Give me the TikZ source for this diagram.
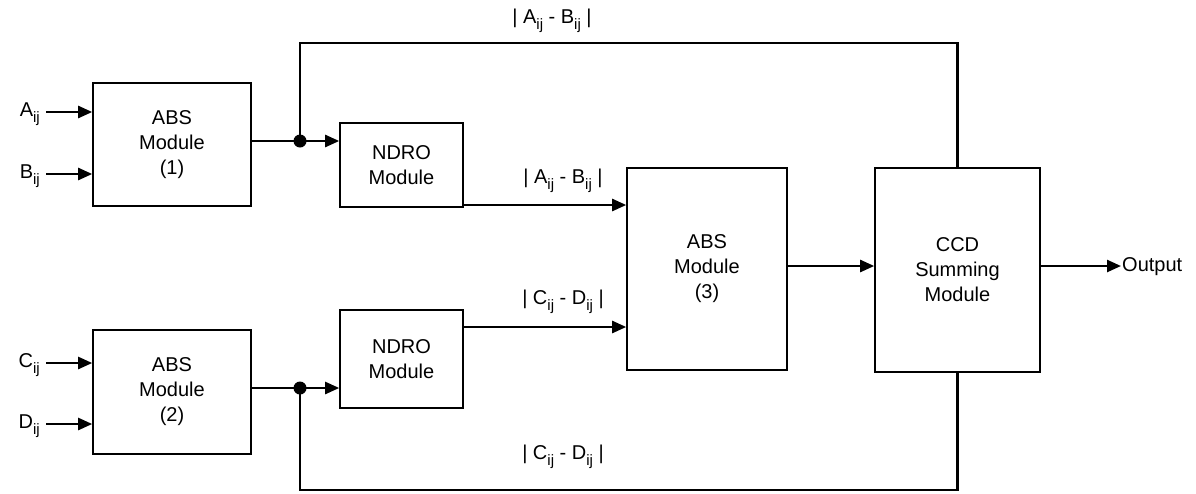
\documentclass[tikz,border=0pt]{standalone}
\usepackage{fontspec}
\setmainfont{Liberation Sans}
\usetikzlibrary{arrows.meta}
\newcommand\subij[1]{\raisebox{-0.6ex}{\fontsize{15}{15}\selectfont #1}}
\tikzset{
  modbox/.style={draw, line width=1.6pt, align=center, font=\fontsize{20}{25}\selectfont, inner sep=0pt},
  conn/.style={line width=2.4pt},
  arr/.style={conn, -{Triangle[length=14pt,width=12pt]}},
  lbl/.style={font=\fontsize{20}{24}\selectfont, inner sep=1pt},
  jdot/.style={circle, fill=black, minimum size=13pt, inner sep=0pt},
}
\begin{document}
\begin{tikzpicture}[x=1pt,y=-1pt]
\useasboundingbox (0,0) rectangle (1196,493);
% boxes
\node[modbox, minimum width=158pt, minimum height=123pt] (abs1) at (172,144.5) {ABS\\Module\\(1)};
\node[modbox, minimum width=158pt, minimum height=124pt] (abs2) at (172,392) {ABS\\Module\\(2)};
\node[modbox, minimum width=123pt, minimum height=84pt] (ndro1) at (401.5,165) {NDRO\\Module};
\node[modbox, minimum width=123pt, minimum height=98pt] (ndro2) at (401.5,359) {NDRO\\Module};
\node[modbox, minimum width=160pt, minimum height=202pt] (abs3) at (707,269) {ABS\\Module\\(3)};
\node[modbox, minimum width=165pt, minimum height=204pt] (ccd) at (957.5,270) {CCD\\Summing\\Module};
% inputs
\node[lbl, anchor=east] (ina) at (41,114) {A\subij{ij}};
\node[lbl, anchor=east] (inb) at (41,176) {B\subij{ij}};
\node[lbl, anchor=east] (inc) at (41,365) {C\subij{ij}};
\node[lbl, anchor=east] (ind) at (41,426) {D\subij{ij}};
\coordinate (ya) at (0,112);
\coordinate (yb) at (0,174);
\coordinate (yc) at (0,363);
\coordinate (yd) at (0,424);
\draw[arr, shorten <=5pt] (ina.east |- ya) -- (abs1.west |- ya);
\draw[arr, shorten <=5pt] (inb.east |- yb) -- (abs1.west |- yb);
\draw[arr, shorten <=5pt] (inc.east |- yc) -- (abs2.west |- yc);
\draw[arr, shorten <=5pt] (ind.east |- yd) -- (abs2.west |- yd);
% junctions
\coordinate (j1) at (300,141);
\coordinate (j2) at (300,388);
\coordinate (topy) at (0,43);
\coordinate (boty) at (0,490);
\draw[conn] (abs1.east |- j1) -- (j1);
\draw[arr] (j1) -- (ndro1.west |- j1);
\draw[conn] (abs2.east |- j2) -- (j2);
\draw[arr] (j2) -- (ndro2.west |- j2);
\draw[conn] (j1) -- (j1 |- topy) -| (ccd.north);
\draw[conn] (j2) -- (j2 |- boty) -| (ccd.south);
\node[jdot] (d1) at (j1) {};
\node[jdot] (d2) at (j2) {};
% NDRO outputs
\coordinate (r1) at (0,205);
\coordinate (r2) at (0,327);
\draw[arr] (ndro1.east |- r1) -- (abs3.west |- r1);
\draw[arr] (ndro2.east |- r2) -- (abs3.west |- r2);
% ABS3 -> CCD
\coordinate (r3) at (0,266);
\draw[arr] (abs3.east |- r3) -- (ccd.west |- r3);
% output
\node[lbl, anchor=west] (out) at (1121,267) {Output};
\draw[arr] (ccd.east |- r3) -- (out.west |- r3);
% labels
\node[lbl] (lab1) at (552,21) {| A\subij{ij} - B\subij{ij} |};
\node[lbl] (lab2) at (563,181) {| A\subij{ij} - B\subij{ij} |};
\node[lbl] (lab3) at (563,302) {| C\subij{ij} - D\subij{ij} |};
\node[lbl] (lab4) at (563,457) {| C\subij{ij} - D\subij{ij} |};
\end{tikzpicture}
\end{document}
